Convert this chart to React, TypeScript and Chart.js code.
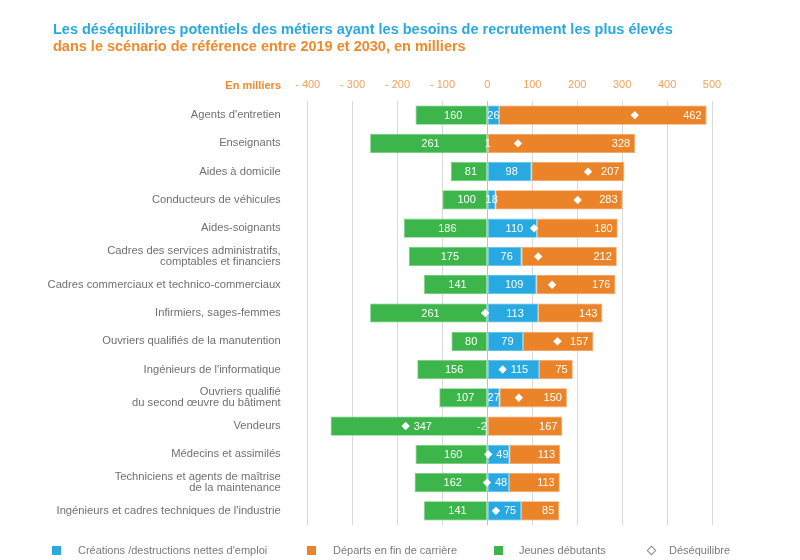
import React, { useEffect, useRef } from 'react';
import { Chart, registerables } from 'chart.js';

Chart.register(...registerables);

const categories: (string | string[])[] = [
  "Agents d'entretien",
  'Enseignants',
  'Aides à domicile',
  'Conducteurs de véhicules',
  'Aides-soignants',
  ['Cadres des services administratifs,', 'comptables et financiers'],
  'Cadres commerciaux et technico-commerciaux',
  'Infirmiers, sages-femmes',
  'Ouvriers qualifiés de la manutention',
  "Ingénieurs de l'informatique",
  ['Ouvriers qualifié', 'du second œuvre du bâtiment'],
  'Vendeurs',
  'Médecins et assimilés',
  ['Techniciens et agents de maîtrise', 'de la maintenance'],
  "Ingénieurs et cadres techniques de l'industrie",
];

// Créations / destructions nettes d'emploi
const creations = [26, 1, 98, 18, 110, 76, 109, 113, 79, 115, 27, -2, 49, 48, 75];
// Départs en fin de carrière
const departs = [462, 328, 207, 283, 180, 212, 176, 143, 157, 75, 150, 167, 113, 113, 85];
// Jeunes débutants (shown to the left of zero)
const debutants = [160, 261, 81, 100, 186, 175, 141, 261, 80, 156, 107, 347, 160, 162, 141];
// Déséquilibre
const desequilibre = [328, 68, 224, 201, 104, 113, 144, -5, 156, 34, 70, -182, 2, -1, 19];

const xMin = -400;
const xMax = 500;
const xStep = 100;

const BLUE = '#29a9e1';
const ORANGE = '#eb8429';
const GREEN = '#3cb54a';
const FONT = 'Arial, "Liberation Sans", sans-serif';

const labelPlugin = {
  id: 'barValueLabels',
  afterDatasetsDraw(chart: any) {
    const ctx = chart.ctx;
    const dMeta = chart.getDatasetMeta(3);
    const raws = [creations, departs, debutants];
    ctx.save();
    ctx.font = `11px ${FONT}`;
    ctx.fillStyle = '#ffffff';
    ctx.textBaseline = 'middle';
    [0, 1, 2].forEach((di) => {
      const meta = chart.getDatasetMeta(di);
      meta.data.forEach((bar: any, i: number) => {
        const p = bar.getProps(['x', 'base', 'y'], true);
        const x0 = Math.min(p.x, p.base);
        const x1 = Math.max(p.x, p.base);
        const text = String(raws[di][i]);
        const tw = ctx.measureText(text).width;
        const ty = p.y + 0.5;
        if (di === 1) {
          ctx.textAlign = 'right';
          ctx.fillText(text, x1 - 5, ty);
          return;
        }
        const dx = dMeta.data[i].x;
        const inside = dx >= x0 - 1.5 && dx <= x1;
        const start = dx + 8;
        if (inside && x1 - start >= tw - 3) {
          ctx.textAlign = 'left';
          ctx.fillText(text, start, ty);
        } else if (di === 0 && raws[0][i] < 0) {
          ctx.textAlign = 'right';
          ctx.fillText(text, p.base, ty);
        } else {
          ctx.textAlign = 'center';
          const shift = x1 - x0 > 15 ? 2 : 0;
          ctx.fillText(text, (x0 + x1) / 2 + shift, ty);
        }
      });
    });
    ctx.restore();
  },
};

export default function App() {
  const ref = useRef<HTMLCanvasElement | null>(null);

  useEffect(() => {
    if (!ref.current) return;
    const chart = new Chart(ref.current, {
      type: 'bar',
      data: {
        labels: categories as any,
        datasets: [
          {
            label: "Créations /destructions nettes d'emploi",
            data: creations,
            backgroundColor: BLUE,
            borderColor: '#5cc0ea',
            borderWidth: 0.8,
            borderSkipped: false,
            order: 1,
          },
          {
            label: 'Départs en fin de carrière',
            data: departs,
            backgroundColor: ORANGE,
            borderColor: '#f2a462',
            borderWidth: 0.8,
            borderSkipped: false,
            order: 1,
          },
          {
            label: 'Jeunes débutants',
            data: debutants.map((v) => -v),
            backgroundColor: GREEN,
            borderColor: '#72cc7d',
            borderWidth: 0.8,
            borderSkipped: false,
            order: 1,
          },
          {
            type: 'line',
            label: 'Déséquilibre',
            data: desequilibre,
            showLine: false,
            pointStyle: 'rectRot',
            pointRadius: 4.2,
            pointBackgroundColor: '#ffffff',
            pointBorderColor: '#ffffff',
            pointBorderWidth: 0,
            stack: 'diamond',
            order: 0,
          } as any,
        ],
      },
      options: {
        indexAxis: 'y',
        responsive: false,
        animation: false,
        layout: { padding: { top: 71, right: 88, bottom: 35, left: 0 } },
        datasets: {
          bar: { barPercentage: 0.68, categoryPercentage: 1 },
        },
        plugins: {
          legend: { display: false },
          title: { display: false },
          tooltip: { enabled: false },
        },
        scales: {
          x: {
            position: 'top',
            stacked: true,
            min: xMin,
            max: xMax,
            border: { display: false },
            grid: {
              drawTicks: false,
              color: (c: any) => (c.tick && c.tick.value === 0 ? '#f3b37c' : '#d9d9d9'),
              lineWidth: 1,
            },
            ticks: {
              stepSize: xStep,
              padding: 9,
              color: '#f2a25a',
              font: { family: FONT, size: 11 },
              callback: (v: any) => (Number(v) < 0 ? '- ' + Math.abs(Number(v)) : String(v)),
            },
            afterFit: (scale: any) => {
              scale.height = 30;
            },
          },
          y: {
            stacked: true,
            border: { display: false },
            grid: { display: false, drawTicks: false },
            ticks: {
              padding: 27,
              color: '#707070',
              font: { family: FONT, size: 11.2, lineHeight: 1.0 },
            },
            afterFit: (scale: any) => {
              scale.width = 307.7;
            },
          },
        },
      } as any,
      plugins: [labelPlugin],
    });
    return () => chart.destroy();
  }, []);

  const legendText: React.CSSProperties = {
    position: 'absolute',
    top: 543.5,
    fontFamily: FONT,
    fontSize: 11,
    lineHeight: '13px',
    color: '#7a7a7a',
    whiteSpace: 'nowrap',
  };
  const box = (left: number, color: string): React.CSSProperties => ({
    position: 'absolute',
    left,
    top: 545.5,
    width: 9,
    height: 9,
    background: color,
  });

  return (
    <div style={{ position: 'fixed', left: 0, top: 0, width: 800, height: 560, background: '#fff', overflow: 'hidden' }}>
      <canvas ref={ref} width={800} height={560} style={{ position: 'absolute', left: 0, top: 0, width: 800, height: 560 }} />
      <div
        style={{
          position: 'absolute',
          left: 53,
          top: 20.5,
          fontFamily: FONT,
          fontWeight: 'bold',
          fontSize: 14.5,
          lineHeight: '17px',
          whiteSpace: 'nowrap',
        }}
      >
        <div style={{ color: '#29a9e1' }}>
          Les déséquilibres potentiels des métiers ayant les besoins de recrutement les plus élevés
        </div>
        <div style={{ color: '#ef8a2d' }}>dans le scénario de référence entre 2019 et 2030, en milliers</div>
      </div>
      <div
        style={{
          position: 'absolute',
          left: 160,
          width: 121,
          textAlign: 'right',
          top: 78.7,
          fontFamily: FONT,
          fontWeight: 'bold',
          fontSize: 11,
          lineHeight: '13px',
          color: '#ef8a2d',
        }}
      >
        En milliers
      </div>
      <div style={box(52, BLUE)} />
      <div style={{ ...legendText, left: 78 }}>Créations /destructions nettes d'emploi</div>
      <div style={box(307, ORANGE)} />
      <div style={{ ...legendText, left: 333 }}>Départs en fin de carrière</div>
      <div style={box(494, GREEN)} />
      <div style={{ ...legendText, left: 519 }}>Jeunes débutants</div>
      <div
        style={{
          position: 'absolute',
          left: 648,
          top: 546.5,
          width: 5,
          height: 5,
          border: '1px solid #8a8a8a',
          transform: 'rotate(45deg)',
        }}
      />
      <div style={{ ...legendText, left: 669 }}>Déséquilibre</div>
    </div>
  );
}
